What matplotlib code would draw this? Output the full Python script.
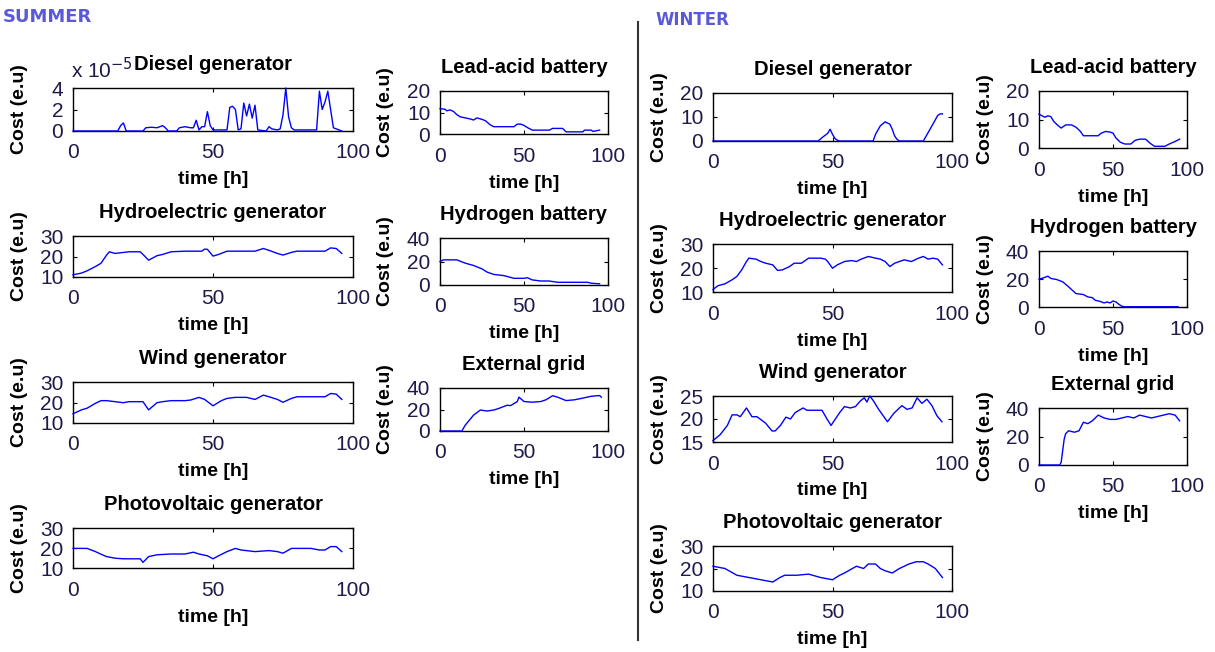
import matplotlib
matplotlib.use('Agg')
import matplotlib.pyplot as plt
from matplotlib.lines import Line2D

# ---------------- DATA ----------------
# SUMMER
s_diesel_t = [0, 16, 17, 18, 19, 25, 26, 28, 30, 32, 33, 34, 35, 37, 38, 40, 42, 43, 44, 45, 46, 47, 48, 49, 50, 51, 52, 55, 56, 57, 58, 59,
              60, 61, 62, 63, 64, 65, 66, 69, 70, 71, 73, 74, 75, 76, 77, 78, 79, 87, 88, 89, 90, 91, 92, 93, 94, 95, 96]
s_diesel_v = [0, 0, 0.5, 0.75, 0, 0, 0.3, 0.35, 0.3, 0.5, 0.3, 0, 0, 0, 0.3, 0.4, 0.3, 0.3, 1.0, 0.1, 0.4, 0.4, 1.8, 0.5, 0.1, 0.1, 0.1, 0.1, 2.2, 2.3, 2.0, 0.1,
              0.2, 2.6, 1.4, 2.5, 1.2, 2.4, 0.1, 0, 0.4, 0.2, 0.1, 0.2, 1.5, 4.0, 1.3, 0.3, 0.1, 0.1, 3.7, 2.0, 2.7, 3.7, 2.0, 0.3, 0.2, 0.1, 0]

s_lead_t = [0, 3, 4, 6, 8, 10, 12, 15, 18, 20, 22, 25, 27, 30, 32, 44, 46, 48, 50, 52, 55, 65, 67, 73, 75, 85, 86, 90, 91, 95]
s_lead_v = [11.8, 11.5, 10.8, 11.2, 10.5, 9.0, 8.0, 7.5, 7.0, 6.5, 7.5, 6.8, 6.2, 4.2, 3.4, 3.4, 4.6, 4.6, 4.0, 3.0, 1.8, 1.8, 2.6, 2.6, 1.0, 1.0, 1.8, 1.8, 1.2, 1.8]

s_hydro_t = [0, 3, 5, 8, 10, 12, 13, 15, 20, 24, 25, 27, 30, 32, 35, 40, 46, 47, 48, 50, 52, 55, 65, 68, 70, 73, 75, 78, 80, 90, 92, 94, 96]
s_hydro_v = [11.1, 11.9, 13, 15.1, 16.7, 20.7, 22.3, 21.5, 22.3, 22.3, 21, 18.2, 20.4, 21, 22.3, 22.6, 22.6, 23.6, 23.5, 20.2, 21, 22.6, 22.6, 23.9, 23,
             21.5, 20.7, 22, 22.6, 22.6, 24.2, 23.9, 21.5]

s_h2_t = [0, 2, 10, 15, 20, 25, 28, 32, 38, 44, 50, 52, 55, 60, 65, 70, 75, 88, 90, 95]
s_h2_v = [20, 21.4, 21.4, 18.6, 16.6, 13.7, 11, 9, 8, 5.7, 5.7, 6.2, 4.3, 3.4, 3.4, 2.3, 2.3, 2.3, 1.5, 1.0]

s_wind_t = [0, 3, 5, 8, 10, 12, 15, 18, 20, 25, 27, 30, 32, 35, 40, 42, 45, 47, 50, 53, 55, 58, 62, 65, 68, 70, 73, 75, 78, 80, 90, 92, 94, 96]
s_wind_v = [14.5, 16.4, 17.2, 19.6, 20.9, 20.9, 20.4, 19.9, 20.4, 20.4, 16.4, 19.9, 20.4, 20.9, 20.9, 21.2, 22.5, 21.5, 18.4, 20.9, 22, 22.5, 22.5,
            21.5, 23.6, 22.8, 21.5, 20.1, 22, 22.8, 22.8, 24.4, 24.1, 21.5]

s_grid_t = [0, 13, 15, 20, 24, 28, 32, 35, 40, 42, 46, 47, 50, 55, 60, 63, 67, 70, 75, 80, 85, 90, 95, 96]
s_grid_v = [0, 0, 5.4, 14.8, 19.5, 18.6, 19.5, 21, 24, 23.6, 27.4, 31.5, 27.4, 26.8, 27.4, 29, 32.8, 31.5, 28.3, 29, 30.6, 32.3, 33, 31.5]

s_pv_t = [0, 5, 8, 10, 12, 15, 18, 24, 25, 27, 30, 35, 40, 43, 45, 48, 50, 52, 55, 58, 60, 65, 70, 73, 75, 78, 85, 88, 90, 92, 94, 96]
s_pv_v = [19.8, 19.8, 18.2, 16.9, 15.7, 14.9, 14.6, 14.6, 12.8, 15.7, 16.6, 17, 17, 17.9, 17, 16.1, 14.6, 16.1, 18.2, 19.8, 19, 18.2, 18.7, 18.2,
          17.4, 19.8, 19.8, 19, 19, 20.7, 20.7, 18.2]

# WINTER
w_diesel_t = [0, 44, 46, 48, 49, 50, 51, 52, 53, 67, 68, 70, 72, 74, 75, 76, 77, 78, 88, 90, 92, 94, 95, 96]
w_diesel_v = [0, 0, 1.7, 3.2, 4.9, 2.8, 1.1, 0.3, 0, 0, 2.8, 6.3, 8.0, 7.0, 4.9, 2.1, 0.7, 0, 0, 3.5, 7.0, 10.6, 11.3, 11.3]

w_lead_t = [0, 2, 4, 6, 8, 10, 13, 15, 18, 22, 25, 28, 30, 40, 42, 45, 48, 50, 52, 55, 58, 62, 65, 68, 72, 75, 78, 85, 88, 92, 95]
w_lead_v = [11.9, 11.3, 10.8, 11.3, 11, 9.3, 7.8, 7.0, 8.1, 8.1, 7.3, 5.8, 4.3, 4.3, 5.2, 5.8, 5.6, 5.2, 3.5, 2.0, 1.4, 1.4, 2.7, 3.1, 3.1, 1.7,
            0.6, 0.6, 1.4, 2.3, 3.1]

w_hydro_t = [0, 2, 5, 8, 10, 12, 14, 15, 18, 20, 22, 25, 27, 29, 32, 34, 37, 40, 45, 47, 48, 50, 52, 55, 58, 60, 62, 65, 68, 70, 72, 74, 76, 78,
             80, 83, 86, 88, 90, 92, 94, 96]
w_hydro_v = [11, 12.6, 13.4, 15.1, 16.5, 19.2, 22.7, 24.1, 23.7, 22.7, 22, 21.3, 19, 19.2, 20.6, 22, 22, 24.1, 24.1, 23.7, 22.7, 19.9, 21.3, 22.7,
             23.1, 22.7, 23.7, 24.8, 24.1, 23.7, 22.7, 20.6, 22, 22.7, 23.4, 22.7, 24.1, 24.8, 23.7, 24.1, 23.7, 21.3]

w_h2_t = [0, 3, 6, 8, 12, 16, 20, 23, 25, 30, 33, 36, 38, 41, 44, 46, 48, 50, 52, 54, 56, 58, 94]
w_h2_v = [19.9, 20.8, 22, 20.4, 19.6, 18, 14.4, 11.5, 9.6, 8.9, 7.2, 6.7, 4.8, 4.1, 2.9, 3.6, 2.9, 4.3, 3.6, 1.9, 0.5, 0.2, 0.2]

w_wind_t = [0, 3, 6, 8, 10, 11.4, 14, 16.3, 18.4, 22, 24.7, 26, 28.2, 30.5, 32.4, 34.4, 37.7, 39.3, 42, 45.6, 47.7, 49.4, 51.2, 53, 55, 57.5,
            59.6, 61.6, 63.3, 64.4, 65.6, 67.2, 69.3, 73, 75.6, 79, 81.2, 83.3, 85.4, 87.4, 89.5, 91.6, 93.7, 95.8]
w_wind_v = [15.3, 16.6, 18.6, 20.9, 20.9, 20.5, 22.4, 20.5, 20.5, 19.1, 17.4, 17.4, 18.6, 20.4, 20.0, 21.4, 22.4, 21.9, 21.9, 21.9, 20.0, 18.6,
            20.0, 21.4, 22.7, 22.4, 22.7, 23.9, 24.6, 23.7, 25.0, 23.9, 22.1, 19.4, 21.2, 22.9, 22.1, 22.4, 24.6, 23.4, 24.3, 22.9, 20.7, 19.4]

w_grid_t = [0, 14, 15, 16, 17, 18, 20, 24, 27, 30, 33, 36, 40, 44, 48, 52, 56, 60, 64, 68, 72, 76, 80, 84, 88, 92, 95]
w_grid_v = [0, 0, 2, 10, 18, 22, 24, 23, 24, 30, 29, 31, 35, 33, 32, 32, 33, 34, 33, 35, 34, 33, 34, 35, 36, 35, 31]

w_pv_t = [0, 5, 10, 15, 20, 25, 28, 30, 35, 40, 45, 50, 53, 55, 60, 63, 65, 68, 70, 72, 75, 78, 82, 85, 88, 90, 93, 96]
w_pv_v = [21, 20, 17, 16, 15, 14, 16, 17, 17, 17.5, 16, 15, 17, 18, 21, 20, 22, 22, 20, 19, 18, 20, 22, 23, 23, 22, 20, 16]

x_ticks = [0, 50, 100]

# ---------------- FIGURE ----------------
W, H = 1215, 652
plt.rcParams['font.family'] = ['Liberation Sans', 'DejaVu Sans']
fig = plt.figure(figsize=(W / 100, H / 100), dpi=100)

TICK_COL = '#1e1a4a'

# (box px: x0, ytop, x1, ybottom), t, v, title, ylim, yticks, ylabel x px
panels = [
    ((73, 88, 353, 131), s_diesel_t, s_diesel_v, 'Diesel generator', (0, 4), [0, 2, 4], 20),
    ((73, 236, 353, 277), s_hydro_t, s_hydro_v, 'Hydroelectric generator', (10, 30), [10, 20, 30], 20),
    ((73, 382, 353, 423), s_wind_t, s_wind_v, 'Wind generator', (10, 30), [10, 20, 30], 20),
    ((73, 528, 353, 568), s_pv_t, s_pv_v, 'Photovoltaic generator', (10, 30), [10, 20, 30], 20),
    ((440, 91, 608, 134), s_lead_t, s_lead_v, 'Lead-acid battery', (0, 20), [0, 10, 20], 385),
    ((440, 238, 608, 285), s_h2_t, s_h2_v, 'Hydrogen battery', (0, 40), [0, 20, 40], 385),
    ((440, 388, 608, 431), s_grid_t, s_grid_v, 'External grid', (0, 40), [0, 20, 40], 385),
    ((713, 93, 952, 141), w_diesel_t, w_diesel_v, 'Diesel generator', (0, 20), [0, 10, 20], 660),
    ((713, 244, 952, 292), w_hydro_t, w_hydro_v, 'Hydroelectric generator', (10, 30), [10, 20, 30], 660),
    ((713, 396, 952, 442), w_wind_t, w_wind_v, 'Wind generator', (15, 25), [15, 20, 25], 660),
    ((713, 546, 952, 591), w_pv_t, w_pv_v, 'Photovoltaic generator', (10, 30), [10, 20, 30], 660),
    ((1039, 91, 1187, 148), w_lead_t, w_lead_v, 'Lead-acid battery', (0, 20), [0, 10, 20], 985),
    ((1039, 251, 1187, 307), w_h2_t, w_h2_v, 'Hydrogen battery', (0, 40), [0, 20, 40], 985),
    ((1039, 408, 1187, 465), w_grid_t, w_grid_v, 'External grid', (0, 40), [0, 20, 40], 985),
]

for box, t, v, title, ylim, yticks, ylab_x in panels:
    x0, y0, x1, y1 = box
    wpx, hpx = x1 - x0, y1 - y0
    ax = fig.add_axes([x0 / W, 1 - y1 / H, wpx / W, hpx / H])
    ax.plot(t, v, color='#0000ff', lw=1.0, clip_on=False, zorder=3)
    ax.set_xlim(0, 100)
    ax.set_ylim(*ylim)
    ax.set_xticks(x_ticks)
    ax.set_yticks(yticks)
    ax.tick_params(direction='in', top=True, right=True, length=3, width=0.8,
                   labelsize=15, colors='black', labelcolor=TICK_COL)
    ax.tick_params(axis='x', pad=9)
    ax.tick_params(axis='y', pad=7)
    for sp in ax.spines.values():
        sp.set_linewidth(1.0)
        sp.set_color('black')
    ax.set_title(title, fontsize=14.5, fontweight='bold', pad=13)
    ax.set_ylabel('Cost (e.u)', fontsize=14, fontweight='bold')
    ax.yaxis.set_label_coords((ylab_x - x0) / wpx, 0.5)
    ax.yaxis.label.set_va('center')
    ax.set_xlabel('time [h]', fontsize=14, fontweight='bold')
    ax.xaxis.set_label_coords(0.5, -49 / hpx)
    ax.xaxis.label.set_va('center')

# exponent label for summer diesel
fig.text(71 / W, 1 - 70 / H, r'x 10$^{-5}$', fontsize=15, ha='left', va='center', color=TICK_COL)

# headers
fig.text(3 / W, 1 - 17 / H, 'SUMMER', fontsize=13, fontweight='bold', color='#5a5ad8',
         family=['DejaVu Sans'], ha='left', va='center')
fig.text(655 / W, 1 - 20 / H, 'WINTER', fontsize=12, fontweight='bold', color='#5a5ad8',
         family=['DejaVu Sans'], ha='left', va='center')

# separator
fig.add_artist(Line2D([638 / W, 638 / W], [1 - 22 / H, 1 - 640 / H], color='#333333', lw=1.5))

fig.savefig('out.png', dpi=100)
